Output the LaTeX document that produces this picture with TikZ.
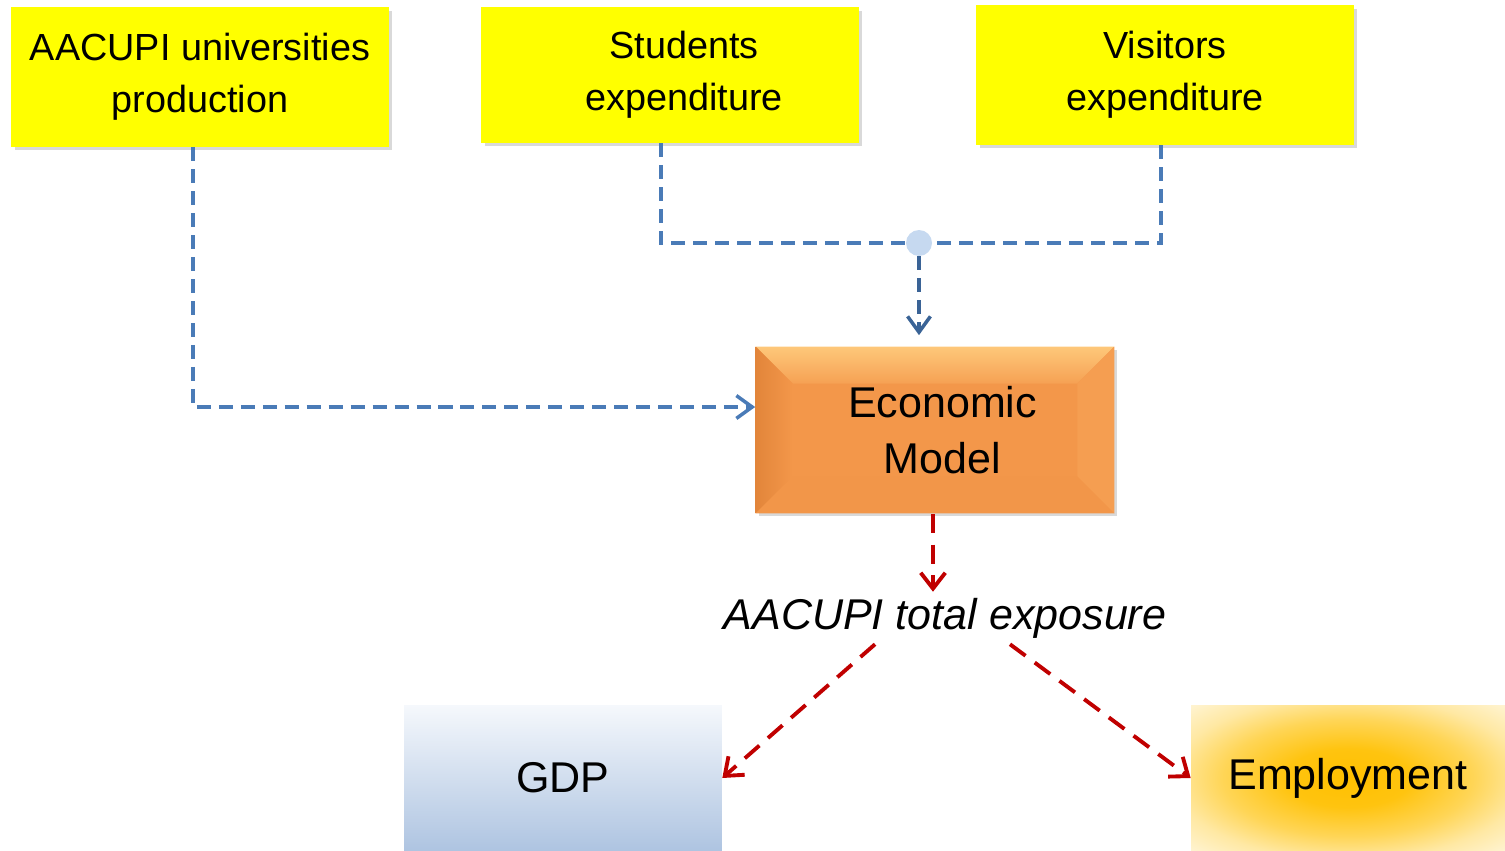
\documentclass[tikz,border=0pt]{standalone}
\usepackage{fontspec}
\setmainfont{Liberation Sans}
\usetikzlibrary{positioning,calc,shadows,arrows.meta}
\definecolor{BoxYellow}{RGB}{255,255,0}
\definecolor{LinkBlue}{RGB}{74,123,183}
\definecolor{TipBlue}{RGB}{58,99,150}
\definecolor{HubBlue}{RGB}{198,217,240}
\definecolor{ModelOrange}{RGB}{243,151,74}
\definecolor{ModelLight}{RGB}{254,200,122}
\definecolor{ModelDark}{RGB}{226,133,58}
\definecolor{FlowRed}{RGB}{192,0,0}
\definecolor{GdpTop}{RGB}{245,248,252}
\definecolor{GdpBottom}{RGB}{174,196,225}
\definecolor{EmpInner}{RGB}{255,192,0}
\pgfdeclareradialshading{empglow}{\pgfpoint{0bp}{0bp}}{%
	color(0bp)=(EmpInner); color(10bp)=(EmpInner!94!white);
	color(20bp)=(EmpInner!66!white); color(28bp)=(EmpInner!36!white);
	color(37bp)=(EmpInner!14!white); color(72bp)=(EmpInner!5!white)}
\tikzset{
	inputbox/.style={fill=BoxYellow, minimum width=7.55cm, minimum height=2.8cm, align=center,
		font=\fontsize{21.5pt}{29.5pt}\selectfont,
		drop shadow={shadow xshift=0.07cm, shadow yshift=-0.07cm, opacity=0.3}},
	modelbox/.style={fill=ModelOrange, minimum width=7.18cm, minimum height=3.34cm, align=center,
		font=\fontsize{24.5pt}{32pt}\selectfont,
		drop shadow={shadow xshift=0.06cm, shadow yshift=-0.06cm, opacity=0.3},
		path picture={
			\coordinate (nw) at (path picture bounding box.north west);
			\coordinate (ne) at (path picture bounding box.north east);
			\coordinate (sw) at (path picture bounding box.south west);
			\coordinate (se) at (path picture bounding box.south east);
			% bevel edges
			\shade[top color=ModelLight, bottom color=ModelOrange!80!ModelLight] (nw) -- (ne) -- ($(ne)+(-37,37)$) -- ($(nw)+(37,37)$) -- cycle;
			\shade[left color=ModelDark, right color=ModelOrange] (nw) -- ($(nw)+(37,37)$) -- ($(sw)+(37,-37)$) -- (sw) -- cycle;
			\fill[ModelOrange!85!ModelLight] (ne) -- ($(ne)+(-37,37)$) -- ($(se)+(-37,-37)$) -- (se) -- cycle;
			\fill[ModelOrange!92!ModelDark] (sw) -- ($(sw)+(37,-37)$) -- ($(se)+(-37,-37)$) -- (se) -- cycle;
		}},
	outbox/.style={minimum height=2.92cm, align=center, font=\fontsize{24.5pt}{30pt}\selectfont},
	bluelink/.style={LinkBlue, line width=2pt, dash pattern=on 8pt off 4.5pt},
	redlink/.style={FlowRed, line width=2.2pt, dash pattern=on 11pt off 6.5pt,
		-{Straight Barb[length=9pt,width=14pt]}},
	bluetip/.style={-{Straight Barb[length=9pt,width=13pt]}},
}

\begin{document}
\begin{tikzpicture}[x=0.02cm, y=-0.02cm]
	\useasboundingbox (0,0) rectangle (1505,851);

	% inputs
	\node[inputbox] (aacupi) at (200,77) {AACUPI universities\\production};
	\node[inputbox, minimum height=2.72cm] (stud) at (670,75) {\hspace*{0.56cm}Students\\\hspace*{0.56cm}expenditure};
	\node[inputbox] (vis) at (1165,75) {Visitors\\expenditure};

	% model
	\node[modelbox] (econ) at (935,430) {\hspace*{0.3cm}Economic\\\hspace*{0.3cm}Model};
	\node[circle, fill=HubBlue, minimum size=0.52cm, inner sep=0pt] (hub) at (919,243) {};

	\draw[bluelink, bluetip] ([xshift=-0.14cm]aacupi.south) |- ([yshift=0.46cm]econ.west);
	\draw[bluelink] ([xshift=-0.18cm]stud.south) |- (hub);
	\draw[bluelink] ([xshift=-0.08cm]vis.south) |- (hub);
	\draw[bluelink, TipBlue, bluetip, shorten >=0.22cm] (hub) -- (hub |- econ.north);

	% outputs
	\node[font=\fontsize{24.5pt}{30pt}\selectfont\itshape] (expo) at (945,618) {AACUPI total exposure};
	\node[outbox, minimum width=6.36cm, top color=GdpTop, bottom color=GdpBottom] (gdp) at (563,778) {GDP};
	\node[outbox, minimum width=6.28cm, shading=empglow] (emp) at (1348,778) {Employment};

	\draw[redlink] ([xshift=-0.04cm]econ.south) -- ([xshift=-0.04cm]econ.south |- expo.north);
	\draw[redlink] ([xshift=-1.4cm]expo.south) -- (gdp.east);
	\draw[redlink] ([xshift=1.3cm]expo.south) -- (emp.west);
\end{tikzpicture}
\end{document}
